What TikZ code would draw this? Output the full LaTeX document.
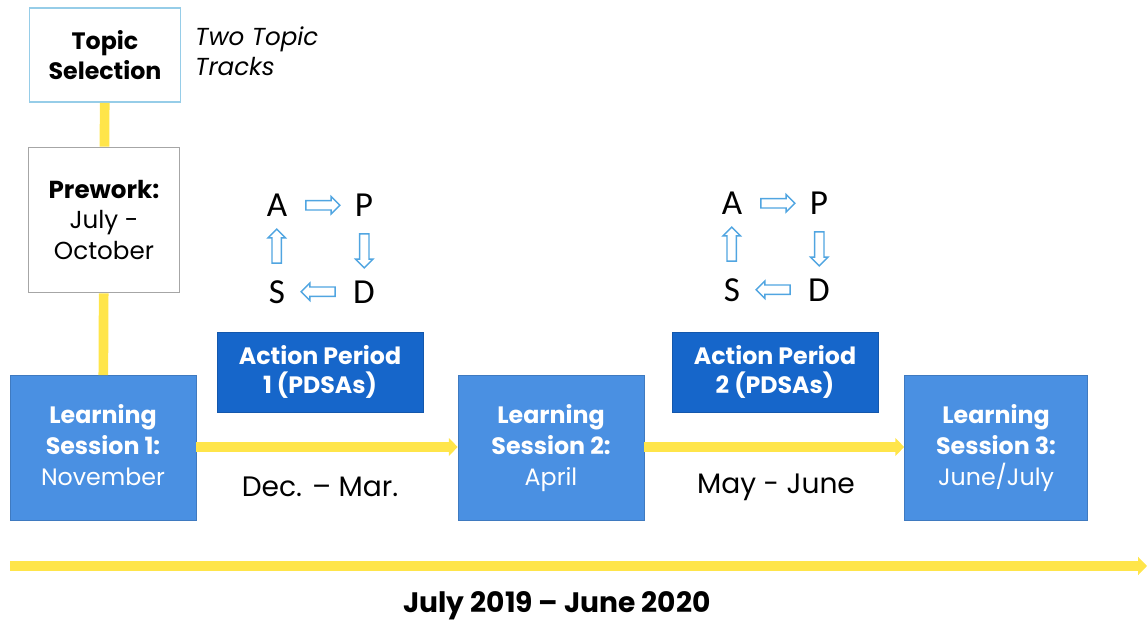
\documentclass[tikz,border=0pt]{standalone}
\usepackage{fontspec}
\setmainfont{Poppins}
\newfontfamily\cyclefont{Carlito}
\usetikzlibrary{arrows.meta, positioning, shapes.arrows, calc}

\definecolor{sessionblue}{RGB}{74,144,226}
\definecolor{actionblue}{RGB}{22,102,202}
\definecolor{trackyellow}{RGB}{255,229,74}
\definecolor{cycleblue}{RGB}{80,165,225}
\definecolor{topicblue}{RGB}{150,205,232}

\begin{document}
\begin{tikzpicture}[x=0.02cm,y=-0.02cm,>={Triangle[length=5pt,width=10pt]},
	font=\fontsize{13.5}{17.5}\selectfont]

		\tikzstyle{session}=[rectangle,fill=sessionblue,draw=sessionblue!85!black,
			text=white,minimum width=3.72cm,minimum height=2.9cm,align=center,
			yshift=-0.06cm]
		\tikzstyle{action}=[rectangle,fill=actionblue,draw=actionblue!85!black,
			text=white,font=\fontsize{13.5}{17}\selectfont\bfseries,
			minimum width=4.12cm,minimum height=1.6cm,align=center]
		\tikzstyle{prebox}=[rectangle,fill=white,line width=1pt,
			minimum width=3.02cm,align=center]
		\tikzstyle{track}=[draw=trackyellow,line width=5.5pt]
		\tikzstyle{letter}=[font=\cyclefont\fontsize{20}{20}\selectfont,inner sep=1pt]
		\tikzstyle{pdsa}=[single arrow,draw=cycleblue,fill=white,line width=0.8pt,
			inner sep=0.08cm,minimum height=0.68cm,
			single arrow head extend=0.08cm]

		\useasboundingbox (0,0) rectangle (1147,624);

		% start of the project
		\node [prebox, draw=topicblue, minimum height=1.88cm] (topic) at (105,55)
			{\textbf{Topic}\\\textbf{Selection}};
		\node [anchor=north west, align=left, font=\fontsize{14}{17}\selectfont\itshape]
			(tracks) at (189,21) {Two Topic\\Tracks};
		\node [prebox, draw=black!35, minimum height=2.9cm,
			font=\fontsize{14}{17.5}\selectfont] (prework) at (104,220)
			{\textbf{Prework:}\\July -\\October};

		% learning sessions and action periods
		\node [session] (ls1) at (103,445)
			{\textbf{Learning}\\\textbf{Session 1:}\\November\vphantom{Jy/}};
		\node [session] (ls2) at (551,445)
			{\textbf{Learning}\\\textbf{Session 2:}\\April\vphantom{Jy/}};
		\node [session, minimum width=3.66cm] (ls3) at (996,445)
			{\textbf{Learning}\\\textbf{Session 3:}\\June/July\vphantom{Jy/}};
		\node [action] (ap1) at (320,372) {Action Period\\1 (PDSAs)};
		\node [action] (ap2) at (775,372) {Action Period\\2 (PDSAs)};
		\node [font=\fontsize{16}{18}\selectfont] (dates1) at (320,487) {Dec. -- Mar.};
		\node [font=\fontsize{16}{18}\selectfont] (dates2) at (776,487) {May - June};

		\draw [track] (topic) -- (prework);
		\draw [track] (prework) -- (ls1);
		\draw [track,->] (ls1.east |- 0,447) -- (ls2.west |- 0,447);
		\draw [track,->] (ls2.east |- 0,447) -- (ls3.west |- 0,447);

		% PDSA cycles
		\foreach \n/\x/\y in {1/320/248, 2/775/246} {
			\node [letter] (A\n) at (\x-43,\y-43) {A};
			\node [letter] (P\n) at (\x+44,\y-43) {P};
			\node [letter] (S\n) at (\x-43,\y+44) {S};
			\node [letter] (D\n) at (\x+44,\y+44) {D};
			\node [pdsa] (ap\n) at ($(A\n)!.5!(P\n)+(0,0.34)$) {};
			\node [pdsa, shape border rotate=270] (pd\n) at ($(P\n)!.5!(D\n)+(0.32,0)$) {};
			\node [pdsa, shape border rotate=180] (ds\n) at ($(D\n)!.5!(S\n)+(0,-0.32)$) {};
			\node [pdsa, shape border rotate=90] (sa\n) at ($(S\n)!.5!(A\n)+(-0.3,0)$) {};
		}

		% whole time line
		\coordinate (tstart) at (10,566);
		\coordinate (tend) at (1147,566);
		\draw [track,->] (tstart) -- (tend);
		\node [font=\fontsize{16}{18}\selectfont\bfseries] (period) at (557,606)
			{July 2019 -- June 2020};
	\end{tikzpicture}
\end{document}
